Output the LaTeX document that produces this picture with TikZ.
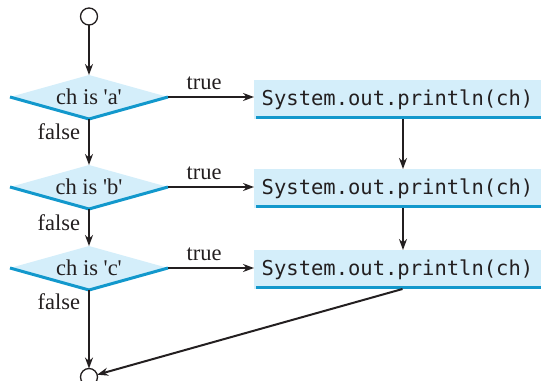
\documentclass[tikz,border=0pt]{standalone}
\usepackage{fontspec}
\setmainfont{Liberation Serif}
\newfontfamily\plainserif{Liberation Serif}
\newfontfamily\codefont{DejaVu Sans Mono}
\usetikzlibrary{shapes.geometric,arrows.meta}
\definecolor{fillblue}{RGB}{212,238,250}
\definecolor{lineblue}{RGB}{18,152,204}
\definecolor{ink}{RGB}{35,31,32}
\tikzset{
  conn/.style={draw=ink,line width=2pt,-{Stealth[length=11pt,width=8pt]}},
  dec/.style={diamond,shape aspect=3.6,fill=fillblue,draw=none,inner sep=0pt,outer sep=0pt,
    minimum width=158pt,minimum height=44pt,text=ink,font=\plainserif\fontsize{22.5}{26}\selectfont},
  stmt/.style={rectangle,fill=fillblue,draw=none,inner sep=0pt,outer sep=0pt,text=ink,
    minimum width=287pt,minimum height=39pt,font=\codefont\fontsize{20.5}{24}\selectfont},
  blueedge/.style={draw=lineblue,line width=3pt},
  term/.style={circle,draw=ink,line width=1.3pt,fill=white,minimum size=17pt,inner sep=0pt,outer sep=0pt},
  lbl/.style={font=\fontsize{22.5}{26}\selectfont,text=ink,inner sep=0pt}
}
\begin{document}
\begin{tikzpicture}[x=1pt,y=-1pt]
\useasboundingbox (0,0) rectangle (542,381);
\node[term] (start) at (89,16.5) {};
\node[dec] (d1) at (89,97) {ch is 'a'};
\node[dec] (d2) at (89,187) {ch is 'b'};
\node[dec] (d3) at (89,268) {ch is 'c'};
\foreach \d in {d1,d2,d3}{
  \draw[blueedge,line join=miter] (\d.west) -- (\d.south) -- (\d.east);
}
\node[stmt] (b1) at (397.5,99.5) {System.out.println(ch)};
\node[stmt] (b2) at (397.5,188.5) {System.out.println(ch)};
\node[stmt] (b3) at (397.5,269.5) {System.out.println(ch)};
\foreach \b in {b1,b2,b3}{
  \draw[blueedge] ([xshift=2pt,yshift=1.5pt]\b.south west) -- ([yshift=1.5pt]\b.south east);
}
\node[term] (end) at (89,377) {};
% flow
\draw[conn] (start) -- (d1.north);
\draw[conn] (d1.south) -- node[lbl,pos=0.28,left=8pt]{false} (d2.north);
\draw[conn] (d2.south) -- node[lbl,pos=0.38,left=8pt]{false} (d3.north);
\draw[conn] (d3.south) -- node[lbl,pos=0.15,left=8pt]{false} (end);
\draw[conn] (d1.east) -- node[lbl,pos=0.42,above=6pt]{true} (d1.east -| b1.west);
\draw[conn] (d2.east) -- node[lbl,pos=0.42,above=6pt]{true} (d2.east -| b2.west);
\draw[conn] (d3.east) -- node[lbl,pos=0.42,above=6pt]{true} (d3.east -| b3.west);
\draw[conn] ([xshift=5.5pt]b1.south) -- ([xshift=5.5pt]b2.north);
\draw[conn] ([xshift=5.5pt]b2.south) -- ([xshift=5.5pt]b3.north);
\draw[conn] ([xshift=5pt]b3.south) -- (end);
\end{tikzpicture}
\end{document}
